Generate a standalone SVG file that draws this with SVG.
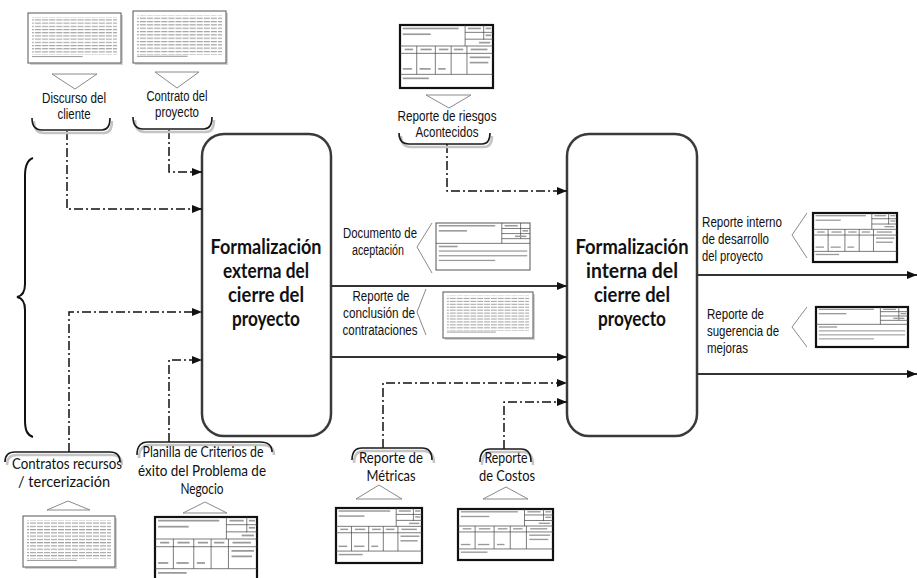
<svg xmlns="http://www.w3.org/2000/svg" xmlns:xlink="http://www.w3.org/1999/xlink" width="917" height="578" viewBox="0 0 917 578">
  <style>
    .proc { fill: #fff; stroke: #3a3a3a; stroke-width: 2.5; }
    .ttl { font-family: Lato, "Liberation Sans", sans-serif; font-weight: bold; font-size: 21px; fill: #111; text-anchor: middle; }
    .n { font-family: "Liberation Sans", Arial, sans-serif; font-size: 15.5px; fill: #111; }
    .c { font-family: Lato, "Liberation Sans", sans-serif; font-size: 15px; fill: #111; text-anchor: middle; }
    .mid { text-anchor: middle; }
    .dd { fill: none; stroke: #111; stroke-width: 1.5; stroke-dasharray: 9 3 2 3; }
    .sol { fill: none; stroke: #333; stroke-width: 1.8; }
    .brk { fill: none; stroke: #1a1a1a; stroke-width: 1.6; }
    .brs { fill: none; stroke: #c4c4c4; stroke-width: 2.5; }
    .tri { fill: #fff; stroke: #8a8a8a; stroke-width: 1; }
    .pg { fill: #fff; stroke: #555; stroke-width: 1; }
    .pgs { fill: #d2d2d2; }
    .tb { fill: #fff; stroke: #111; stroke-width: 2.2; }
    .tbt { fill: #fff; stroke: #555; stroke-width: 1; }
    .g { fill: none; stroke: #444; stroke-width: 0.7; }
    .w { fill: #9a9a9a; }
  </style>
  <defs>
    <marker id="ah" markerWidth="10" markerHeight="8" refX="10" refY="4" orient="auto" markerUnits="userSpaceOnUse">
      <path d="M0,0 L10,4 L0,8 z" fill="#111"/>
    </marker>
    <pattern id="words" width="7" height="3.2" patternUnits="userSpaceOnUse">
      <rect x="0" y="0" width="6" height="1.1" fill="#a0a0a0"/>
    </pattern>
    <!-- plain text page -->
    <symbol id="page" viewBox="0 0 92 50" preserveAspectRatio="none">
      <rect x="4" y="4" width="84" height="38" fill="url(#words)"/>
      <rect x="4" y="43" width="50" height="1.1" fill="#a0a0a0"/>
    </symbol>
    <!-- report form with column grid -->
    <symbol id="tblA" viewBox="0 0 100 60" preserveAspectRatio="none">
      <path class="g" vector-effect="non-scaling-stroke" d="M70,0 V20 M90,0 V14 M70,7 H100 M70,13.5 H100 M0,20 H100 M0,27 H100 M18,20 V47 M38,20 V47 M55,20 V47 M72,20 V47 M0,47 H100"/>
      <rect class="w" x="3" y="2.5" width="60" height="1.6"/>
      <rect class="w" x="3" y="8" width="30" height="1.6"/>
      <rect class="w" x="73" y="2.5" width="14" height="1.6"/>
      <rect class="w" x="92" y="2.5" width="6" height="1.6"/>
      <rect class="w" x="92" y="9" width="6" height="1.6"/>
      <rect class="w" x="85" y="16" width="12" height="1.6"/>
      <rect class="w" x="5" y="22.5" width="9" height="1.6"/>
      <rect class="w" x="22" y="22.5" width="12" height="1.6"/>
      <rect class="w" x="42" y="22.5" width="10" height="1.6"/>
      <rect class="w" x="58" y="22.5" width="10" height="1.6"/>
      <rect class="w" x="76" y="22.5" width="18" height="1.6"/>
      <rect class="w" x="3" y="41" width="10" height="1.6"/>
      <rect class="w" x="21" y="41" width="12" height="1.6"/>
      <rect class="w" x="41" y="41" width="8" height="1.6"/>
      <rect class="w" x="75" y="30" width="22" height="1.6"/>
      <rect class="w" x="75" y="35" width="20" height="1.6"/>
      <rect class="w" x="3" y="50" width="28" height="1.6"/>
    </symbol>
    <!-- report form with free paragraph -->
    <symbol id="tblB" viewBox="0 0 100 60" preserveAspectRatio="none">
      <path class="g" vector-effect="non-scaling-stroke" d="M70,0 V26 M90,0 V20 M70,7 H100 M70,13.5 H100 M70,20 H100 M0,26 H100"/>
      <rect class="w" x="3" y="2.5" width="60" height="2"/>
      <rect class="w" x="3" y="9" width="30" height="2"/>
      <rect class="w" x="73" y="2.5" width="14" height="2"/>
      <rect class="w" x="92" y="9" width="6" height="2"/>
      <rect class="w" x="84" y="16" width="12" height="2"/>
      <rect class="w" x="3" y="29" width="20" height="2"/>
      <rect class="w" x="3" y="35" width="94" height="1.6"/>
      <rect class="w" x="3" y="41" width="94" height="1.6"/>
      <rect class="w" x="3" y="47" width="60" height="1.6"/>
    </symbol>
  </defs>

  <rect width="917" height="578" fill="#fff"/>

  <!-- left curly brace grouping the inputs -->
  <path d="M33,158 C27,160 25,166 25,176 V284 C25,292 22,296 17,297 C22,298 25,302 25,310 V420 C25,430 27,435 33,437" fill="none" stroke="#111" stroke-width="2"/>

  <!-- process: external closure -->
  <g id="proc-externa">
    <rect class="proc" x="202" y="134" width="129" height="302" rx="22"/>
    <text class="ttl" x="266" y="254" textLength="111" lengthAdjust="spacingAndGlyphs">Formalización</text>
    <text class="ttl" x="266" y="278" textLength="86" lengthAdjust="spacingAndGlyphs">externa del</text>
    <text class="ttl" x="266" y="302" textLength="76" lengthAdjust="spacingAndGlyphs">cierre del</text>
    <text class="ttl" x="266" y="326" textLength="68" lengthAdjust="spacingAndGlyphs">proyecto</text>
  </g>

  <!-- process: internal closure -->
  <g id="proc-interna">
    <rect class="proc" x="567" y="134" width="130" height="302" rx="22"/>
    <text class="ttl" x="632" y="254" textLength="113" lengthAdjust="spacingAndGlyphs">Formalización</text>
    <text class="ttl" x="632" y="278" textLength="92" lengthAdjust="spacingAndGlyphs">interna del</text>
    <text class="ttl" x="632" y="302" textLength="76" lengthAdjust="spacingAndGlyphs">cierre del</text>
    <text class="ttl" x="632" y="326" textLength="68" lengthAdjust="spacingAndGlyphs">proyecto</text>
  </g>

  <!-- connectors -->
  <g id="connectors" marker-end="url(#ah)">
    <path class="dd" d="M67,131 V209 H202"/>
    <path class="dd" d="M169,130 V172 H202"/>
    <path class="dd" d="M69,452 V312 H202"/>
    <path class="dd" d="M169,442 V360 H202"/>
    <path class="dd" d="M447,144 V191 H567"/>
    <path class="dd" d="M383,448 V383 H567"/>
    <path class="dd" d="M504,449 V402 H567"/>
    <path class="sol" d="M331,286 H567"/>
    <path class="sol" d="M331,357 H567"/>
    <path class="sol" d="M697,275 H917"/>
    <path class="sol" d="M697,374 H917"/>
  </g>

  <!-- input: client discourse -->
  <g id="in-discurso">
    <rect class="pgs" x="30" y="15" width="93" height="50"/>
    <rect class="pg" x="28" y="13" width="93" height="50"/>
    <use xlink:href="#page" x="28" y="13" width="93" height="50"/>
    <path class="tri" d="M52,74 H97 L75,89 z"/>
    <text class="n mid" x="74" y="103" textLength="64" lengthAdjust="spacingAndGlyphs">Discurso del</text>
    <text class="n mid" x="74" y="119" textLength="33" lengthAdjust="spacingAndGlyphs">cliente</text>
    <path class="brs" d="M34,121 Q34,133 44,133 H104 Q112,133 112,121"/>
    <path class="brk" d="M32,118 Q32,130 42,130 H102 Q110,130 110,118"/>
  </g>

  <!-- input: project contract -->
  <g id="in-contrato">
    <rect class="pgs" x="135" y="13" width="93" height="52"/>
    <rect class="pg" x="133" y="11" width="93" height="52"/>
    <use xlink:href="#page" x="133" y="11" width="93" height="52"/>
    <path class="tri" d="M155,72 H199 L177,88 z"/>
    <text class="n mid" x="177" y="101" textLength="61" lengthAdjust="spacingAndGlyphs">Contrato del</text>
    <text class="n mid" x="177" y="117" textLength="44" lengthAdjust="spacingAndGlyphs">proyecto</text>
    <path class="brs" d="M135,120 Q135,132 145,132 H206 Q214,132 214,120"/>
    <path class="brk" d="M133,117 Q133,129 143,129 H204 Q212,129 212,117"/>
  </g>

  <!-- input: risks report -->
  <g id="in-riesgos">
    <rect class="tb" x="400" y="25" width="93" height="63"/>
    <use xlink:href="#tblA" x="400" y="25" width="93" height="63"/>
    <path class="tri" d="M426,95 H471 L449,108 z"/>
    <text class="n mid" x="447" y="121" textLength="99" lengthAdjust="spacingAndGlyphs">Reporte de riesgos</text>
    <text class="n mid" x="447" y="137" textLength="63" lengthAdjust="spacingAndGlyphs">Acontecidos</text>
    <path class="brs" d="M401,136 Q401,147 411,147 H484 Q492,147 492,136"/>
    <path class="brk" d="M399,133 Q399,144 409,144 H482 Q490,144 490,133"/>
  </g>

  <!-- input: resource contracts -->
  <g id="in-recursos">
    <path class="brs" d="M7,465 Q7,455 17,455 H112 Q122,455 122,465"/>
    <path class="brk" d="M5,462 Q5,452 15,452 H110 Q120,452 120,462"/>
    <text class="c" x="67" y="469" textLength="110" lengthAdjust="spacingAndGlyphs">Contratos recursos</text>
    <text class="c" x="64" y="487" textLength="92" lengthAdjust="spacingAndGlyphs">/ tercerización</text>
    <path class="tri" d="M47,510 L68,501 L90,510 z"/>
    <rect class="pgs" x="25" y="518" width="92" height="51"/>
    <rect class="pg" x="23" y="516" width="92" height="51"/>
    <use xlink:href="#page" x="23" y="516" width="92" height="51"/>
  </g>

  <!-- input: success criteria sheet -->
  <g id="in-planilla">
    <path class="brs" d="M139,458 Q139,445 150,445 H262 Q274,445 274,455"/>
    <path class="brk" d="M137,455 Q137,442 148,442 H260 Q272,442 272,452"/>
    <text class="c" x="203" y="457" textLength="121" lengthAdjust="spacingAndGlyphs">Planilla de Criterios de</text>
    <text class="c" x="202" y="476" textLength="128" lengthAdjust="spacingAndGlyphs">éxito del Problema de</text>
    <text class="c" x="202" y="494" textLength="43" lengthAdjust="spacingAndGlyphs">Negocio</text>
    <path class="tri" d="M183,513 L205,502 L227,513 z"/>
    <rect class="tb" x="155" y="517" width="102" height="66"/>
    <use xlink:href="#tblA" x="155" y="517" width="102" height="66"/>
  </g>

  <!-- output: acceptance document -->
  <g id="out-aceptacion">
    <text class="n mid" x="380" y="238" textLength="74" lengthAdjust="spacingAndGlyphs">Documento de</text>
    <text class="n mid" x="378" y="255" textLength="52" lengthAdjust="spacingAndGlyphs">aceptación</text>
    <path class="tri" d="M432,223 L417,247 L432,273"/>
    <rect class="tbt" x="436" y="223" width="94" height="47"/>
    <use xlink:href="#tblB" x="436" y="223" width="94" height="47"/>
  </g>

  <!-- output: contracting conclusion report -->
  <g id="out-conclusion">
    <text class="n mid" x="381" y="301" textLength="57" lengthAdjust="spacingAndGlyphs">Reporte de</text>
    <text class="n mid" x="379" y="318" textLength="72" lengthAdjust="spacingAndGlyphs">conclusión de</text>
    <text class="n mid" x="380" y="335" textLength="75" lengthAdjust="spacingAndGlyphs">contrataciones</text>
    <path class="tri" d="M426,289 L417,312 L426,335"/>
    <rect class="pgs" x="445" y="294" width="90" height="46"/>
    <rect class="pg" x="443" y="292" width="90" height="46"/>
    <use xlink:href="#page" x="443" y="292" width="90" height="46"/>
  </g>

  <!-- input: metrics report -->
  <g id="in-metricas">
    <path class="brs" d="M354,463 Q354,451 364,451 H424 Q434,451 434,463"/>
    <path class="brk" d="M352,460 Q352,448 362,448 H422 Q432,448 432,460"/>
    <text class="c" x="391" y="463" textLength="64" lengthAdjust="spacingAndGlyphs">Reporte de</text>
    <text class="c" x="391" y="481" textLength="49" lengthAdjust="spacingAndGlyphs">Métricas</text>
    <path class="tri" d="M356,499 L379,485 L402,499 z"/>
    <rect class="tb" x="336" y="508" width="86" height="55"/>
    <use xlink:href="#tblA" x="336" y="508" width="86" height="55"/>
  </g>

  <!-- input: costs report -->
  <g id="in-costos">
    <path class="brs" d="M482,465 Q482,452 492,452 H523 Q533,452 533,465"/>
    <path class="brk" d="M480,462 Q480,449 490,449 H521 Q531,449 531,462"/>
    <text class="c" x="506" y="463" textLength="43" lengthAdjust="spacingAndGlyphs">Reporte</text>
    <text class="c" x="507" y="481" textLength="56" lengthAdjust="spacingAndGlyphs">de Costos</text>
    <path class="tri" d="M483,499 L506,487 L528,499 z"/>
    <rect class="tb" x="458" y="509" width="95" height="51"/>
    <use xlink:href="#tblA" x="458" y="509" width="95" height="51"/>
  </g>

  <!-- output: internal development report -->
  <g id="out-interno">
    <text class="n" x="702" y="227" textLength="80" lengthAdjust="spacingAndGlyphs">Reporte interno</text>
    <text class="n" x="702" y="244" textLength="67" lengthAdjust="spacingAndGlyphs">de desarrollo</text>
    <text class="n" x="702" y="261" textLength="61" lengthAdjust="spacingAndGlyphs">del proyecto</text>
    <path class="tri" d="M807,213 L792,235 L807,258"/>
    <rect class="tb" x="813" y="213" width="84" height="49"/>
    <use xlink:href="#tblA" x="813" y="213" width="84" height="49"/>
  </g>

  <!-- output: improvement suggestions report -->
  <g id="out-sugerencia">
    <text class="n" x="707" y="319" textLength="57" lengthAdjust="spacingAndGlyphs">Reporte de</text>
    <text class="n" x="707" y="336" textLength="72" lengthAdjust="spacingAndGlyphs">sugerencia de</text>
    <text class="n" x="707" y="353" textLength="41" lengthAdjust="spacingAndGlyphs">mejoras</text>
    <path class="tri" d="M807,307 L792,327 L807,347"/>
    <rect class="tb" x="816" y="307" width="92" height="40"/>
    <use xlink:href="#tblB" x="816" y="307" width="92" height="40"/>
  </g>
</svg>
